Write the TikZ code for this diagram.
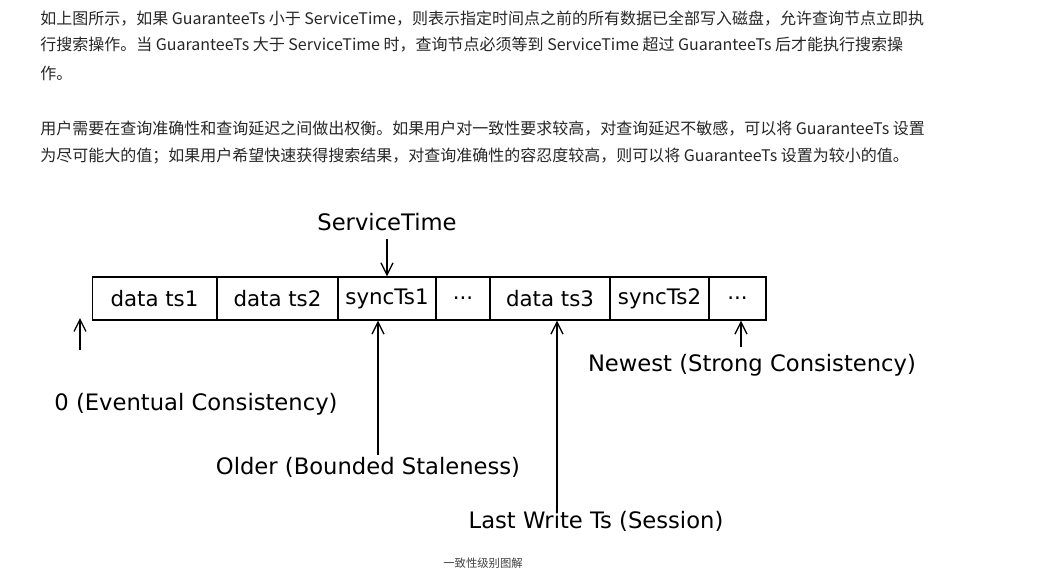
\documentclass[tikz,border=0pt]{standalone}
\usepackage{fontspec}
\setmainfont{Liberation Sans}
\newfontfamily\cjk{Noto Sans CJK SC}
\newfontfamily\hd{DejaVu Sans}
\usetikzlibrary{arrows.meta}
\begin{document}
\begin{tikzpicture}[x=0.75pt,y=-0.75pt,
  para/.style={anchor=west,inner sep=0,font=\cjk\fontsize{12}{14}\selectfont,text=black!85},
  cell/.style={draw,line width=1pt,minimum height=32.25pt,inner sep=0,font=\hd\fontsize{16}{17}\selectfont},
  lbl/.style={font=\hd\fontsize{17}{18}\selectfont,inner sep=0},
  arr/.style={line width=1pt,-{Straight Barb[length=9pt,width=9pt]}}]
\useasboundingbox (0,0) rectangle (1046,579);
\node[para] (p1) at (40,19) {如上图所示，如果 GuaranteeTs 小于 ServiceTime，则表示指定时间点之前的所有数据已全部写入磁盘，允许查询节点立即执};
\node[para] (p2) at (40,45) {行搜索操作。当 GuaranteeTs 大于 ServiceTime 时，查询节点必须等到 ServiceTime 超过 GuaranteeTs 后才能执行搜索操};
\node[para] (p3) at (40,73) {作。};
\node[para] (p4) at (40,129) {用户需要在查询准确性和查询延迟之间做出权衡。如果用户对一致性要求较高，对查询延迟不敏感，可以将 GuaranteeTs 设置};
\node[para] (p5) at (40,156) {为尽可能大的值；如果用户希望快速获得搜索结果，对查询准确性的容忍度较高，则可以将 GuaranteeTs 设置为较小的值。};
\node[cell,minimum width=93pt] (c1) at (154.5,298.5) {data ts1};
\node[cell,minimum width=90.75pt] (c2) at (277.5,298.5) {data ts2};
\node[cell,minimum width=73.5pt] (c3) at (387,298.5) {syncTs1};
\node[cell,minimum width=40.5pt] (c4) at (463,298.5) {...};
\node[cell,minimum width=90pt] (c5) at (550,298.5) {data ts3};
\node[cell,minimum width=74.25pt] (c6) at (659.5,298.5) {syncTs2};
\node[cell,minimum width=42.75pt] (c7) at (737.5,298.5) {...};
\node[lbl] (st) at (387,222) {ServiceTime};
\node[lbl] (l0) at (196,404) {0 (Eventual Consistency)};
\node[lbl] (l1) at (368,467) {Older (Bounded Staleness)};
\node[lbl] (l2) at (596,521) {Last Write Ts (Session)};
\node[lbl] (l3) at (752,365) {Newest (Strong Consistency)};
\coordinate (s0) at (387,239);
\coordinate (a0) at (80,350);
\coordinate (a1) at (378,455);
\coordinate (a2) at (557,512);
\coordinate (a3) at (741,347);
\draw[arr] (s0) -- (c3.north);
\draw[arr] (a0) -- (80,318);
\draw[arr] (a1) -- (c3.south -| a1);
\draw[arr] (a2) -- (c5.south -| a2);
\draw[arr] (a3) -- (c7.south -| a3);
\node[font=\cjk\fontsize{8.5}{10}\selectfont,text=black!75] (cap) at (483,563) {一致性级别图解};
\end{tikzpicture}
\end{document}
